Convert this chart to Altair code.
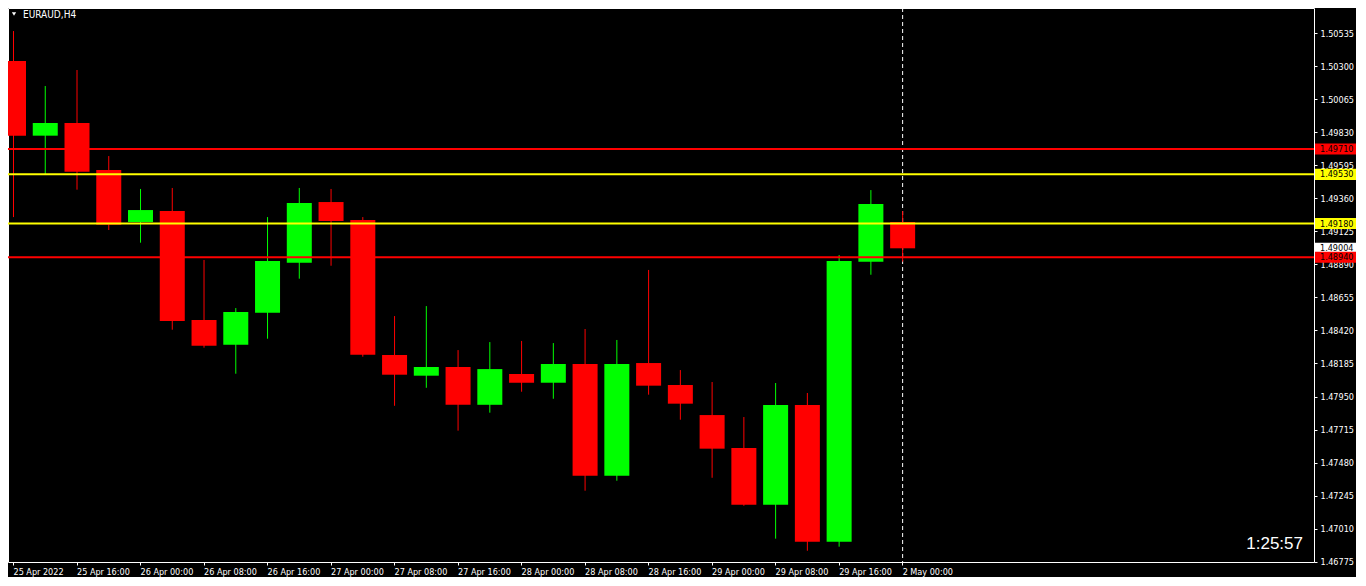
import altair as alt
import pandas as pd

symbol = "EURAUD,H4"
timer = "1:25:57"

# candle index (H4 bars), OHLC
bar_index = list(range(29))
opens = [1.50336, 1.49805, 1.49895, 1.49561, 1.49191, 1.49269, 1.48494, 1.48318, 1.48546, 1.48901,
         1.49333, 1.49205, 1.48245, 1.48098, 1.48160, 1.47891, 1.48110, 1.48048, 1.48181, 1.47387,
         1.48188, 1.48032, 1.47818, 1.47584, 1.47180, 1.47889, 1.46917, 1.48909, 1.49191]
highs = [1.50549, 1.50158, 1.50272, 1.49660, 1.49426, 1.49433, 1.48921, 1.48579, 1.49226, 1.49433,
         1.49426, 1.49226, 1.48522, 1.48593, 1.48280, 1.48337, 1.48345, 1.48330, 1.48430, 1.48352,
         1.48850, 1.48138, 1.48053, 1.47804, 1.48046, 1.47975, 1.48956, 1.49418, 1.49269]
lows = [1.49226, 1.49525, 1.49421, 1.49134, 1.49044, 1.48425, 1.48297, 1.48112, 1.48361, 1.48788,
        1.48880, 1.48233, 1.47884, 1.48012, 1.47707, 1.47835, 1.47984, 1.47934, 1.47280, 1.47351,
        1.47963, 1.47785, 1.47372, 1.47173, 1.46939, 1.46853, 1.46882, 1.48816, 1.48909]
closes = [1.49805, 1.49895, 1.49549, 1.49172, 1.49276, 1.48487, 1.48311, 1.48551, 1.48914, 1.49326,
          1.49198, 1.48247, 1.48105, 1.48160, 1.47891, 1.48145, 1.48048, 1.48181, 1.47387, 1.48181,
          1.48027, 1.47899, 1.47579, 1.47180, 1.47889, 1.46917, 1.48914, 1.49319, 1.49004]

# time axis
time_tick_bars = [0, 2, 4, 6, 8, 10, 12, 14, 16, 18, 20, 22, 24, 26, 28]
time_tick_labels = ["25 Apr 2022", "25 Apr 16:00", "26 Apr 00:00", "26 Apr 08:00", "26 Apr 16:00",
                    "27 Apr 00:00", "27 Apr 08:00", "27 Apr 16:00", "28 Apr 00:00", "28 Apr 08:00",
                    "28 Apr 16:00", "29 Apr 00:00", "29 Apr 08:00", "29 Apr 16:00", "2 May 00:00"]

# price axis
price_ticks = [1.50535, 1.50300, 1.50065, 1.49830, 1.49595, 1.49360, 1.49125, 1.48890, 1.48655,
               1.48420, 1.48185, 1.47950, 1.47715, 1.47480, 1.47245, 1.47010, 1.46775]

# horizontal levels
level_prices = [1.49710, 1.49530, 1.49180, 1.48940]
level_kinds = ["red", "yellow", "yellow", "red"]
bid_price = 1.49004
period_separator = [28]

W, H = 1306, 554
FONT = "DejaVu Sans Condensed, DejaVu Sans"

candles = pd.DataFrame({"i": bar_index, "open": opens, "high": highs, "low": lows, "close": closes})
candles["dir"] = ["up" if c >= o else "down" for o, c in zip(opens, closes)]
levels = pd.DataFrame({"price": level_prices, "kind": level_kinds})
labels_df = pd.DataFrame({"price": level_prices + [bid_price], "kind": level_kinds + ["bid"]})
labels_df["txt"] = [f"{p:.5f}" for p in labels_df["price"]]
bid_df = labels_df[labels_df.kind == "bid"]
lvl_df = labels_df[labels_df.kind != "bid"]
sep_df = pd.DataFrame({"i": period_separator})

xs = alt.Scale(domain=[0, W / 32], nice=False, zero=False)
ys = alt.Scale(domain=[1.46773, 1.50713], nice=False, zero=False)
cs = alt.Scale(domain=["up", "down", "red", "yellow", "bid"],
               range=["#00FF00", "#FF0000", "#FF0000", "#FFFF00", "#FFFFFF"])

lbl_js = "[" + ",".join(f"'{s}'" for s in time_tick_labels) + "]"
pos_js = "[" + ",".join(str(v) for v in time_tick_bars) + "]"

x_axis = alt.Axis(values=time_tick_bars, labelExpr=f"{lbl_js}[indexof({pos_js}, datum.value)]",
                  orient="bottom", title=None, grid=False, domain=False, tickColor="#FFFFFF",
                  tickSize=3, labelColor="#FFFFFF", labelAlign="left", labelBaseline="top",
                  labelPadding=2, labelFlush=False, labelOverlap=False, labelBound=False,
                  labelFont=FONT, labelFontSize=9)
y_axis = alt.Axis(values=price_ticks, format=".5f", orient="right", title=None, grid=False,
                  domain=False, tickColor="#FFFFFF", tickSize=3, labelPadding=3,
                  labelColor="#FFFFFF", labelFont=FONT, labelFontSize=9, labelOverlap=False,
                  labelFlush=False, labelBound=False)

X = lambda f: alt.X(f, scale=xs, axis=x_axis, title=None)
Y = lambda f: alt.Y(f, scale=ys, axis=y_axis, title=None)
C = alt.Color("dir:N", scale=cs, legend=None)

sep = alt.Chart(sep_df).mark_rule(color="#FFFFFF", strokeDash=[4, 3], strokeWidth=1, xOffset=0.5).encode(
    x=X("i:Q")
)

wicks = alt.Chart(candles).mark_rule(strokeWidth=1, clip=True, xOffset=0.5).encode(
    x=X("i:Q"), y=Y("low:Q"), y2="high:Q", color=C,
)

bodies = alt.Chart(candles).mark_bar(size=25, clip=True, xOffset=0.5).encode(
    x=X("i:Q"), y=Y("open:Q"), y2="close:Q", color=C,
)

level_lines = alt.Chart(levels).mark_rule(strokeWidth=2).encode(
    y=Y("price:Q"),
    color=alt.Color("kind:N", scale=cs, legend=None),
)

def price_box(df):
    box = alt.Chart(df).transform_calculate(
        top="datum.price + 0.000395", bot="datum.price - 0.000395"
    ).mark_rect(clip=False).encode(
        x=alt.value(W + 1), x2=alt.value(W + 42),
        y=Y("top:Q"), y2="bot:Q",
        color=alt.Color("kind:N", scale=cs, legend=None),
    )
    txt = alt.Chart(df).mark_text(align="left", baseline="middle", color="#000000",
                                  font=FONT, fontSize=9, clip=False).encode(
        x=alt.value(W + 6),
        y=Y("price:Q"),
        text="txt:N",
    )
    return box + txt

bid_box = price_box(bid_df)
level_boxes = price_box(lvl_df)

title_df = pd.DataFrame({"t": [symbol]})
tri = alt.Chart(title_df).mark_point(shape="triangle-down", filled=True, color="#FFFFFF",
                                    size=18, opacity=1).encode(x=alt.value(6), y=alt.value(6))
title = alt.Chart(title_df).mark_text(align="left", baseline="middle", color="#FFFFFF",
                                      font=FONT, fontSize=10).encode(
    x=alt.value(15), y=alt.value(7), text="t:N")
timer_txt = alt.Chart(pd.DataFrame({"t": [timer]})).mark_text(
    align="right", baseline="alphabetic", color="#FFFFFF", font="Liberation Sans, Arial", fontSize=17
).encode(x=alt.value(W - 11), y=alt.value(H - 13), text="t:N")

chart = alt.layer(
    sep, wicks, bodies, level_lines, bid_box, level_boxes, tri, title, timer_txt
).properties(
    width=W, height=H,
    autosize=alt.AutoSizeParams(type="none"),
    padding={"left": 0, "top": 0, "right": 42, "bottom": 15},
).configure(
    background="#000000",
).configure_view(
    stroke="#FFFFFF", strokeWidth=1, fill="#000000"
)

chart.save("out.html", embed_options={"renderer": "svg", "actions": False})
